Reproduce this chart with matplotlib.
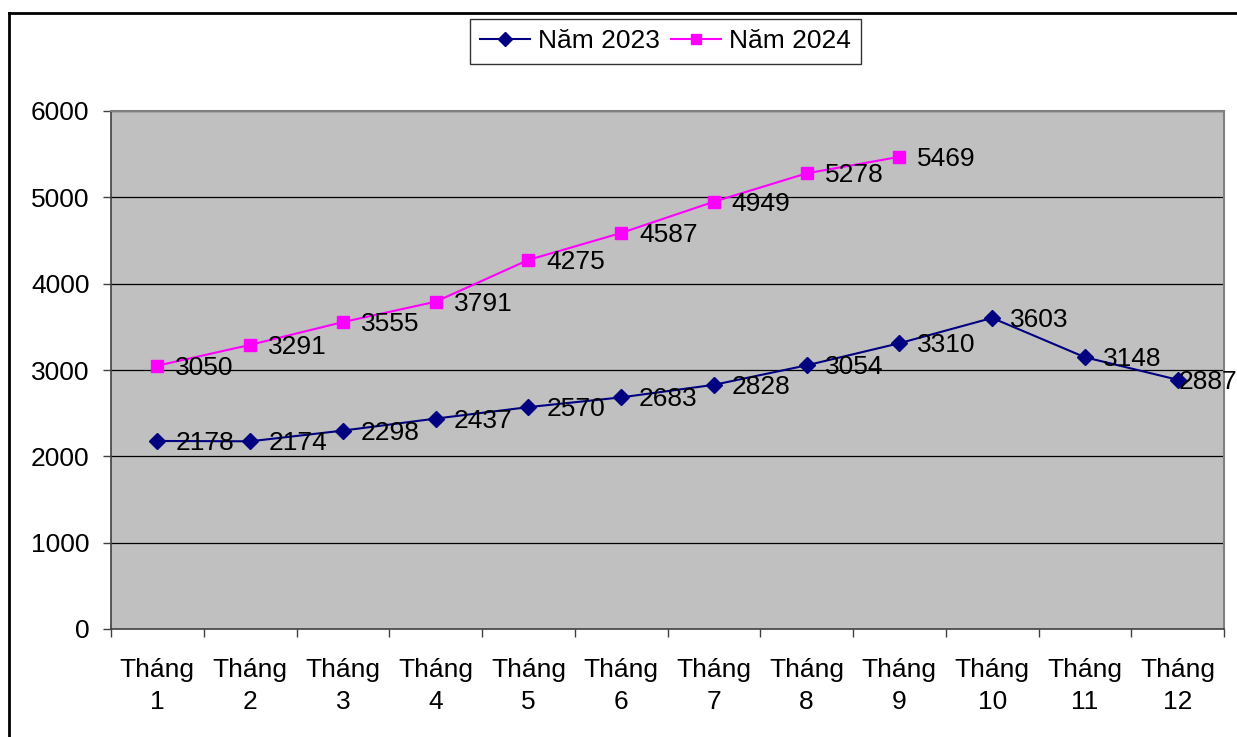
import matplotlib
matplotlib.use("Agg")
import matplotlib.pyplot as plt
from matplotlib.lines import Line2D

plt.rcParams['font.family'] = ['Liberation Sans', 'DejaVu Sans']

months = ["Tháng\n1", "Tháng\n2", "Tháng\n3", "Tháng\n4", "Tháng\n5", "Tháng\n6",
          "Tháng\n7", "Tháng\n8", "Tháng\n9", "Tháng\n10", "Tháng\n11", "Tháng\n12"]
y2023 = [2178, 2174, 2298, 2437, 2570, 2683, 2828, 3054, 3310, 3603, 3148, 2887]
y2024 = [3050, 3291, 3555, 3791, 4275, 4587, 4949, 5278, 5469]
yticks = [0, 1000, 2000, 3000, 4000, 5000, 6000]
series_names = ["Năm 2023", "Năm 2024"]

W, H = 1237, 737
fig = plt.figure(figsize=(W / 100, H / 100), dpi=100)
fs = 19

ax = fig.add_axes([111 / W, 1 - 629 / H, (1224 - 111) / W, (629 - 111) / H])
ax.set_facecolor('#C0C0C0')
ax.set_xlim(0, len(months))
ax.set_ylim(0, 6000)

for t in yticks[1:]:
    ax.axhline(t, color='black', lw=0.9, zorder=1)

x23 = [i + 0.5 for i in range(len(y2023))]
x24 = [i + 0.5 for i in range(len(y2024))]
l1, = ax.plot(x23, y2023, color='#000080', lw=1.5, marker='D', ms=8.5, zorder=3, clip_on=False)
l2, = ax.plot(x24, y2024, color='#FF00FF', lw=1.5, marker='s', ms=8, zorder=3, clip_on=False)

for i, (x, v) in enumerate(zip(x23, y2023)):
    off = 18 if i < len(y2023) - 1 else 1
    ax.annotate(str(v), (x, v), xytext=(off, -2), textcoords='offset pixels',
                ha='left', va='center', fontsize=fs, zorder=4, annotation_clip=False)
for x, v in zip(x24, y2024):
    ax.annotate(str(v), (x, v), xytext=(18, -2), textcoords='offset pixels',
                ha='left', va='center', fontsize=fs, zorder=4)

ax.set_yticks(yticks)
ax.set_yticklabels([str(t) for t in yticks], fontsize=fs)
ax.set_xticks(range(len(months) + 1))
ax.set_xticklabels([])
ax.set_xticks(x23, minor=True)
ax.set_xticklabels(months, minor=True, fontsize=fs, linespacing=1.4)
ax.tick_params(axis='x', which='minor', length=0, pad=21)
ax.tick_params(axis='x', which='major', length=6, width=1, direction='out', color='#404040')
ax.tick_params(axis='y', length=6, width=1, direction='out', color='#404040', pad=9.5)

for s in ['top', 'right']:
    ax.spines[s].set_color('#808080')
    ax.spines[s].set_linewidth(1.5)
for s in ['left', 'bottom']:
    ax.spines[s].set_color('#404040')
    ax.spines[s].set_linewidth(1.2)

leg = fig.legend([l1, l2], series_names, loc='center', bbox_to_anchor=(665.5 / W, 1 - 41.5 / H),
                 ncol=2, fontsize=fs, frameon=True, fancybox=False, edgecolor='black',
                 handlelength=1.9, handletextpad=0.3, columnspacing=0.4, borderpad=0.4,
                 borderaxespad=0, markerscale=0.85)
leg.get_frame().set_linewidth(1.0)

fig.add_artist(Line2D([9 / W, 9 / W], [0, 1 - 13 / H], transform=fig.transFigure, color='black', lw=2))
fig.add_artist(Line2D([9 / W, 1], [1 - 13 / H, 1 - 13 / H], transform=fig.transFigure, color='black', lw=2))

fig.savefig('out.png', dpi=100)
